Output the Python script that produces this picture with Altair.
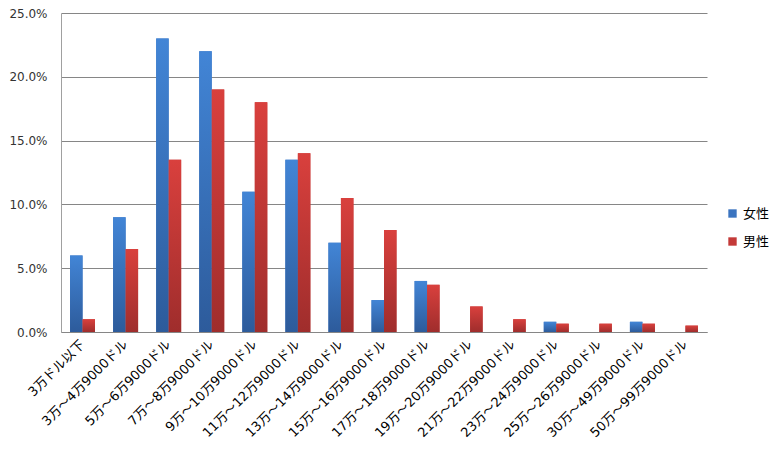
import altair as alt
import pandas as pd

categories = ["3万ドル以下", "3万～4万9000ドル", "5万～6万9000ドル", "7万～8万9000ドル",
              "9万～10万9000ドル", "11万～12万9000ドル", "13万～14万9000ドル",
              "15万～16万9000ドル", "17万～18万9000ドル", "19万～20万9000ドル",
              "21万～22万9000ドル", "23万～24万9000ドル", "25万～26万9000ドル",
              "30万～49万9000ドル", "50万～99万9000ドル"]
female = [6.0, 9.0, 23.0, 22.0, 11.0, 13.5, 7.0, 2.5, 4.0, 0.0, 0.0, 0.8, 0.0, 0.8, 0.0]
male = [1.0, 6.5, 13.5, 19.0, 18.0, 14.0, 10.5, 8.0, 3.7, 2.0, 1.0, 0.65, 0.65, 0.65, 0.5]
series = ["女性", "男性"]

rows = []
for c, f, m in zip(categories, female, male):
    rows.append({"cat": c, "series": series[0], "value": f / 100})
    rows.append({"cat": c, "series": series[1], "value": m / 100})
df = pd.DataFrame(rows)

FONT = "DejaVu Sans, Noto Sans CJK JP"

x = alt.X("cat:N", sort=categories, title=None,
          scale=alt.Scale(paddingInner=0.42, paddingOuter=0.21),
          axis=alt.Axis(labelAngle=-45, labelAlign="right", labelBaseline="middle",
                        labelFontSize=13, labelColor="#000000", labelFont=FONT,
                        ticks=False, domainColor="#868686", labelPadding=10,
                        labelLimit=200, labelOverlap=False))
y = alt.Y("value:Q", title=None,
          scale=alt.Scale(domain=[0, 0.25], nice=False),
          axis=alt.Axis(format=".1%", values=[0, 0.05, 0.10, 0.15, 0.20, 0.25],
                        labelFontSize=12, labelColor="#333333", labelFont=FONT,
                        ticks=False, gridColor="#868686", domainColor="#a0a0a0",
                        labelPadding=14))
xo = alt.XOffset("series:N", scale=alt.Scale(domain=series, paddingInner=0, paddingOuter=0))

base = alt.Chart(df).mark_bar().encode(
    x=x, y=y, xOffset=xo,
    color=alt.Color("series:N", scale=alt.Scale(domain=series, range=["#3b74c0", "#c43a38"]),
                    legend=alt.Legend(title=None, orient="none", legendX=665, legendY=194,
                                      symbolType="square", symbolSize=70,
                                      labelFontSize=13, labelFont=FONT, labelColor="#000000",
                                      labelOffset=4, rowPadding=14, symbolStrokeWidth=0))
)

def grad(top, bottom):
    return {"gradient": "linear", "x1": 0, "y1": 0, "x2": 0, "y2": 1,
            "stops": [{"offset": 0, "color": top}, {"offset": 1, "color": bottom}]}

fem = alt.Chart(df).transform_filter(alt.datum.series == series[0]).mark_bar(
    fill=grad("#4285d6", "#2d5b9b")).encode(x=x, y=y, xOffset=xo)
mal = alt.Chart(df).transform_filter(alt.datum.series == series[1]).mark_bar(
    fill=grad("#d9403d", "#9f2d2c")).encode(x=x, y=y, xOffset=xo)

chart = alt.layer(base, fem, mal).properties(
    width=646, height=319, autosize="none",
    padding={"left": 53, "top": 5, "right": 63, "bottom": 112}
).configure_view(stroke=None).configure_axis(grid=True).configure_axisX(grid=False)

chart.save("out.html", embed_options={"renderer": "svg", "actions": False})
